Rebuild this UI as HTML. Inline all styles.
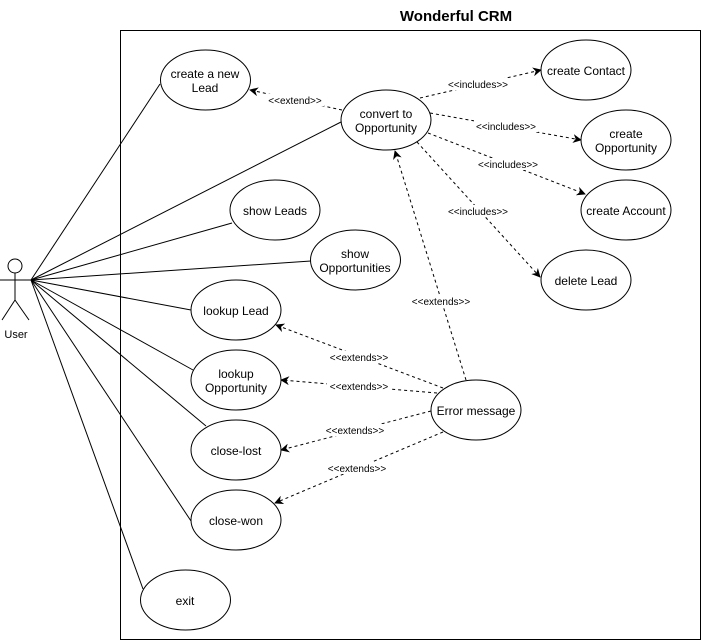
<!DOCTYPE html>
<html><head><style>
html,body{margin:0;padding:0;background:#fff;}
svg{display:block;}
text{font-family:"Liberation Sans",Arial,sans-serif;}
</style></head><body>
<svg width="702" height="642" viewBox="0 0 702 642" xmlns="http://www.w3.org/2000/svg">
<defs>
<marker id="a" viewBox="0 0 10 10" refX="9" refY="5" markerWidth="9" markerHeight="9" markerUnits="userSpaceOnUse" orient="auto">
<path d="M0,0 L10,5 L0,10 L3,5 Z" fill="#000"/>
</marker>
</defs>
<text x="456" y="21" font-size="15" font-weight="bold" text-anchor="middle">Wonderful CRM</text>
<rect x="120.5" y="30.5" width="580" height="609" fill="none" stroke="#000" stroke-width="1"/>

<!-- actor -->
<g stroke="#000" stroke-width="1" fill="none">
<circle cx="15" cy="266" r="7"/>
<line x1="15" y1="273" x2="15" y2="300"/>
<line x1="0" y1="280" x2="31" y2="280"/>
<line x1="15" y1="300" x2="2" y2="320"/>
<line x1="15" y1="300" x2="29" y2="320"/>
</g>
<text x="16" y="338" font-size="11" text-anchor="middle">User</text>

<!-- association lines -->
<g stroke="#000" stroke-width="1">
<line x1="31" y1="280" x2="160" y2="84"/>
<line x1="31" y1="280" x2="341" y2="122"/>
<line x1="31" y1="280" x2="232" y2="223"/>
<line x1="31" y1="280" x2="311" y2="261"/>
<line x1="31" y1="280" x2="191" y2="310"/>
<line x1="31" y1="280" x2="193" y2="370"/>
<line x1="31" y1="280" x2="206" y2="426"/>
<line x1="31" y1="280" x2="191" y2="521"/>
<line x1="31" y1="280" x2="143" y2="589"/>
</g>

<!-- dashed -->
<g stroke="#000" stroke-width="1" stroke-dasharray="3,3" fill="none" marker-end="url(#a)">
<line x1="342" y1="110" x2="250" y2="90"/>
<line x1="420" y1="98" x2="541" y2="70"/>
<line x1="430" y1="113" x2="581" y2="140"/>
<line x1="428" y1="133" x2="585" y2="194"/>
<line x1="417" y1="142" x2="540" y2="277"/>
<line x1="466" y1="380" x2="395" y2="151"/>
<line x1="443" y1="388" x2="276" y2="325"/>
<line x1="437" y1="393" x2="281" y2="380"/>
<line x1="431" y1="411" x2="281" y2="450"/>
<line x1="443" y1="432" x2="275" y2="503"/>
</g>

<!-- labels -->
<g font-size="10" text-anchor="middle">
<rect x="266" y="94" width="58" height="12" fill="#fff"/><text x="295" y="104">&lt;&lt;extend&gt;&gt;</text>
<rect x="446" y="78" width="64" height="12" fill="#fff"/><text x="478" y="88">&lt;&lt;includes&gt;&gt;</text>
<rect x="474" y="120" width="64" height="12" fill="#fff"/><text x="506" y="130">&lt;&lt;includes&gt;&gt;</text>
<rect x="476" y="158" width="64" height="12" fill="#fff"/><text x="508" y="168">&lt;&lt;includes&gt;&gt;</text>
<rect x="446" y="205" width="64" height="12" fill="#fff"/><text x="478" y="215">&lt;&lt;includes&gt;&gt;</text>
<rect x="409" y="295" width="64" height="12" fill="#fff"/><text x="441" y="305">&lt;&lt;extends&gt;&gt;</text>
<rect x="327" y="351" width="64" height="12" fill="#fff"/><text x="359" y="361">&lt;&lt;extends&gt;&gt;</text>
<rect x="327" y="380" width="64" height="12" fill="#fff"/><text x="359" y="390">&lt;&lt;extends&gt;&gt;</text>
<rect x="323" y="424" width="64" height="12" fill="#fff"/><text x="355" y="434">&lt;&lt;extends&gt;&gt;</text>
<rect x="325" y="462" width="64" height="12" fill="#fff"/><text x="357" y="472">&lt;&lt;extends&gt;&gt;</text>
</g>

<!-- ellipses -->
<g fill="#fff" stroke="#000" stroke-width="1">
<ellipse cx="205.5" cy="80" rx="45" ry="30"/>
<ellipse cx="386" cy="120" rx="45" ry="30"/>
<ellipse cx="586" cy="70" rx="45" ry="30"/>
<ellipse cx="626" cy="140" rx="45" ry="30"/>
<ellipse cx="626" cy="210" rx="45" ry="30"/>
<ellipse cx="586" cy="280" rx="45" ry="30"/>
<ellipse cx="275" cy="210" rx="45" ry="30"/>
<ellipse cx="355.5" cy="260" rx="45" ry="30"/>
<ellipse cx="236" cy="310" rx="45" ry="30"/>
<ellipse cx="236" cy="380" rx="45" ry="30"/>
<ellipse cx="236" cy="450" rx="45" ry="30"/>
<ellipse cx="236" cy="520" rx="45" ry="30"/>
<ellipse cx="185.5" cy="600" rx="45" ry="30"/>
<ellipse cx="476" cy="410" rx="45" ry="30"/>
</g>
<g font-size="12" text-anchor="middle">
<text x="205" y="78">create a new</text><text x="205" y="92">Lead</text>
<text x="386" y="118">convert to</text><text x="386" y="132">Opportunity</text>
<text x="586" y="75">create Contact</text>
<text x="626" y="138">create</text><text x="626" y="152">Opportunity</text>
<text x="626" y="215">create Account</text>
<text x="586" y="285">delete Lead</text>
<text x="275" y="215">show Leads</text>
<text x="355" y="258">show</text><text x="355" y="272">Opportunities</text>
<text x="236" y="315">lookup Lead</text>
<text x="236" y="378">lookup</text><text x="236" y="392">Opportunity</text>
<text x="236" y="455">close-lost</text>
<text x="236" y="525">close-won</text>
<text x="185" y="605">exit</text>
<text x="476" y="415">Error message</text>
</g>
</svg>
</body></html>
